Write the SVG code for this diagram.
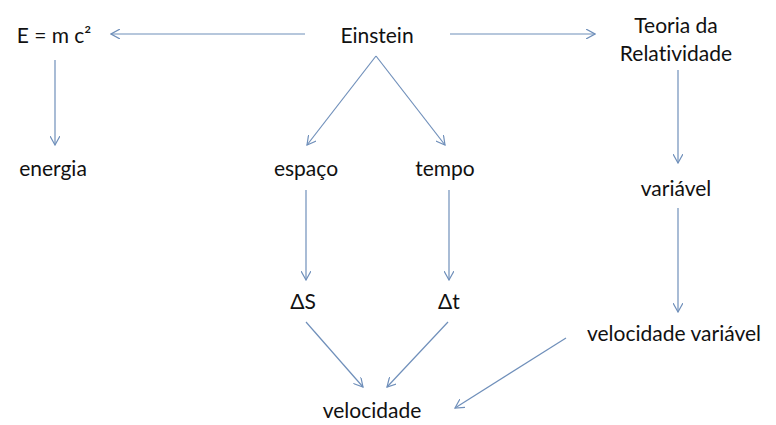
<svg xmlns="http://www.w3.org/2000/svg" width="776" height="425" viewBox="0 0 776 425">
<defs>
<marker id="ah" viewBox="0 0 10 10" refX="9" refY="5" markerWidth="10" markerHeight="10" markerUnits="userSpaceOnUse" orient="auto">
<path d="M0,0 L9,5 L0,10" fill="none" stroke="#6f8fba" stroke-width="1.2"/>
</marker>
<style>
text{font-family:Lato,"Open Sans","Liberation Sans",sans-serif;font-size:21px;fill:#111;text-anchor:middle;dominant-baseline:central;font-variant-ligatures:none}
.c line{stroke:#6f8fba;stroke-width:1.2;marker-end:url(#ah)}
</style>
</defs>
<rect width="776" height="425" fill="#fff"/>
<g class="c" id="connectors">
<line x1="305" y1="34" x2="111" y2="34"/>
<line x1="450" y1="34" x2="595" y2="34"/>
<line x1="55" y1="60" x2="55" y2="145"/>
<line x1="376" y1="56" x2="307" y2="145"/>
<line x1="376" y1="56" x2="445" y2="145"/>
<line x1="306" y1="190" x2="306" y2="280"/>
<line x1="449" y1="190" x2="449" y2="280"/>
<line x1="306" y1="322" x2="363" y2="387"/>
<line x1="448" y1="322" x2="387" y2="387"/>
<line x1="678" y1="70" x2="678" y2="163"/>
<line x1="678" y1="208" x2="678" y2="312"/>
<line x1="566" y1="338" x2="455" y2="408"/>
</g>
<g id="emc2"><text x="54" y="34">E = m c²</text></g>
<g id="einstein"><text x="377" y="34">Einstein</text></g>
<g id="teoria"><text x="676" y="24">Teoria da</text><text x="676" y="52">Relatividade</text></g>
<g id="energia"><text x="53" y="167">energia</text></g>
<g id="espaco"><text x="306" y="167">espaço</text></g>
<g id="tempo"><text x="445" y="167">tempo</text></g>
<g id="deltaS"><text x="303" y="300">ΔS</text></g>
<g id="deltat"><text x="449" y="300">Δt</text></g>
<g id="variavel"><text x="676" y="187">variável</text></g>
<g id="velvar"><text x="674" y="332">velocidade variável</text></g>
<g id="velocidade"><text x="372" y="409">velocidade</text></g>
</svg>
